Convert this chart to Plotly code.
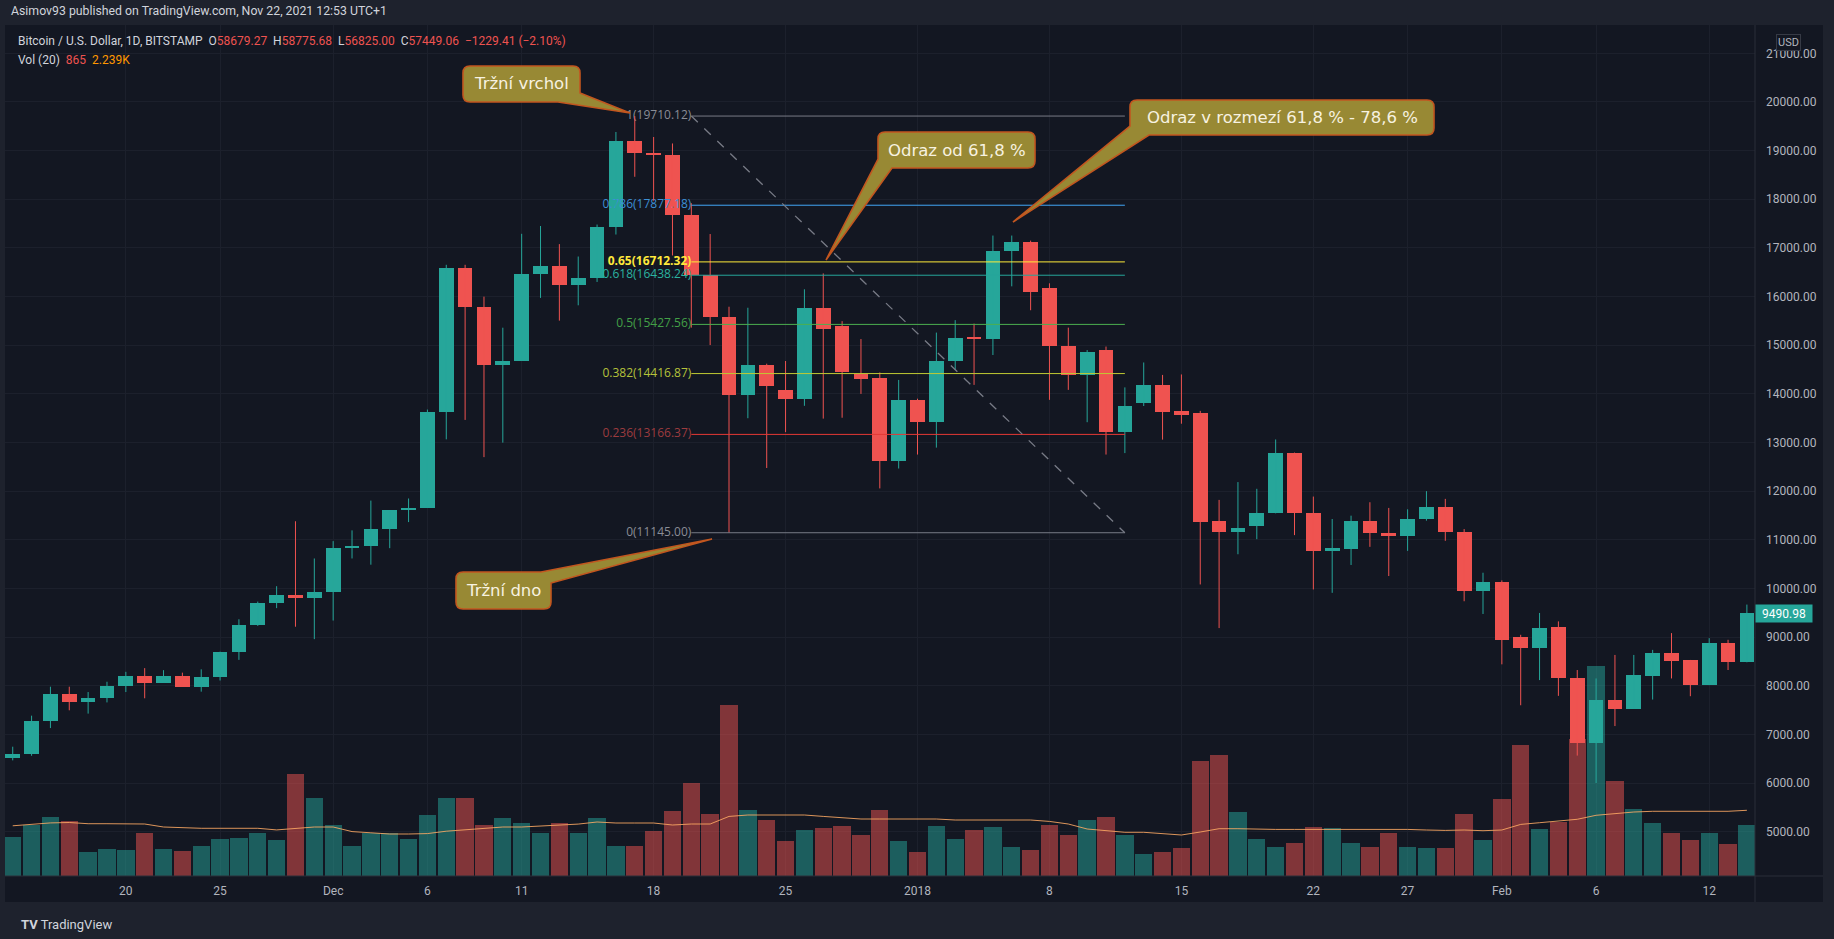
import pandas as pd
import plotly.graph_objects as go

# ---------------- data ----------------
dates = pd.date_range("2017-11-14", "2018-02-14", freq="D")

opens = [
    # Nov 14 - Nov 30
    6509, 6594, 7274, 7835, 7657, 7750, 7997, 8201, 8065, 8201, 7980, 8184, 8686, 9255, 9706, 9868, 9800,
    # Dec
    9919, 10828, 10871, 11228, 11610, 11661, 13617, 16585, 15777, 14587, 14680, 16457, 16636, 16228, 16381,
    17430, 19198, 18943, 18920, 17684, 16436, 15586, 13979, 14594, 14082, 13898, 15760, 15392, 14409, 14327, 12629,
    # Jan
    13877, 13417, 14675, 15146, 15130, 16927, 17131, 16169, 14982, 14389, 14901, 13212, 13806, 14184, 13642,
    13601, 11393, 11165, 11275, 11544, 12793, 11551, 10772, 10820, 11393, 11131, 11068, 11420, 11682, 11165, 9944,
    # Feb
    10130, 8992, 8785, 9199, 8164, 6826, 7716, 7530, 8206, 8668, 8530, 8012, 8875, 8482,
]
highs = [
    6747, 7385, 7980, 7980, 7870, 8082, 8286, 8362, 8320, 8269, 8337, 8700, 9366, 9730, 10046, 11381, 10616,
    10973, 11194, 11806, 11610, 11849, 13677, 16653, 16653, 15998, 15360, 17290, 17450, 17078, 16823, 17480,
    19383, 19710, 19280, 19147, 17919, 17285, 15791, 15770, 14620, 14675, 16149, 16476, 15494, 15126, 14440, 14286,
    13900, 15259, 15515, 15443, 17254, 17254, 17150, 16272, 15361, 14900, 14972, 14133, 14645, 14389, 14399,
    13650, 11820, 12186, 12048, 13062, 12793, 11889, 11427, 11496, 11772, 11655, 11627, 12000, 11841, 11220, 10323,
    10165, 9047, 9496, 9323, 8323, 8150, 8633, 8633, 8737, 9082, 8530, 8978, 8944, 9668,
]
lows = [
    6466, 6560, 7130, 7495, 7427, 7657, 7870, 7742, 8065, 7980, 7878, 8107, 8532, 9230, 9595, 9213, 8958,
    9340, 10616, 10488, 10828, 11364, 11661, 13065, 13464, 12699, 12997, 14680, 15972, 15505, 15820, 16300,
    17275, 18462, 17970, 16845, 15361, 15003, 11145, 13499, 12476, 13212, 13754, 13491, 13509, 13999, 12056, 12465,
    12752, 12895, 14491, 14184, 14798, 16210, 15719, 13877, 14082, 13417, 12752, 12782, 13750, 13059, 13386,
    10082, 9185, 10703, 11013, 11544, 11096, 9979, 9910, 10482, 10855, 10255, 10772, 11393, 10979, 9737, 9475,
    8440, 7599, 8116, 7792, 6564, 6000, 7171, 7530, 7716, 8150, 7785, 8012, 8323, 8482,
]
closes = [
    6594, 7274, 7835, 7657, 7750, 7997, 8201, 8065, 8201, 7980, 8184, 8686, 9255, 9706, 9868, 9800, 9919,
    10828, 10871, 11228, 11610, 11661, 13617, 16585, 15777, 14587, 14680, 16457, 16636, 16228, 16381, 17430,
    19198, 18943, 18920, 17684, 16436, 15586, 13979, 14594, 14154, 13898, 15760, 15340, 14440, 14307, 12629, 13877,
    13417, 14675, 15146, 15130, 16927, 17131, 16098, 14982, 14389, 14870, 13212, 13754, 14184, 13621, 13570,
    11358, 11151, 11241, 11551, 12786, 11544, 10772, 10841, 11393, 11131, 11068, 11434, 11682, 11151, 9944, 10130,
    8944, 8785, 9185, 8150, 6826, 7702, 7530, 8220, 8668, 8516, 8012, 8875, 8482, 9490.98,
]
volumes = [
    13100, 17340, 20160, 18700, 8160, 9350, 8840, 14620, 9040, 8640, 10340, 12720, 12990, 14550, 12140, 34680, 26660,
    17510, 10340, 14550, 14550, 12580, 20880, 26660, 26660, 17340, 19620, 18190, 14550, 18020, 14550, 19720,
    10100, 10100, 15200, 21960, 31760, 20940, 58310, 22300, 19070, 11800, 15540, 16180, 16860, 13840, 22300, 11800,
    8090, 16860, 12650, 15670, 16520, 9760, 8910, 17200, 14010, 18900, 19920, 13840, 7580, 8090, 9520,
    39100, 41280, 21900, 12650, 9930, 11290, 16660, 16420, 11290, 9790, 14690, 9930, 9550, 9550, 20980, 12410,
    26110, 44610, 15840, 18360, 46650, 71540, 32400, 22680, 18120, 14480, 12410, 14690, 11050, 17200,
]
vol_ma20 = [
    17070, 17510, 18050, 18190, 17780, 17780, 17780, 17680, 16660, 16420, 16220, 16220, 16220, 16220, 15670, 16220, 16660,
    16660, 15100, 14690, 14280, 14280, 14420, 15230, 15670, 16220, 16660, 16660, 16930, 17340, 17650, 18360,
    18020, 18020, 18020, 17340, 17680, 17680, 20260, 20740, 20740, 20740, 20740, 20260, 19720, 19380, 19380, 19380,
    19380, 19380, 19040, 19040, 19040, 19040, 19040, 18560, 17680, 15980, 15540, 14860, 14860, 14280, 13940,
    14960, 16080, 16080, 15840, 15840, 15840, 15840, 16080, 16080, 16080, 16080, 15840, 15640, 15500, 15640, 15400,
    15640, 17540, 18120, 18600, 19280, 20640, 21220, 21760, 22000, 22000, 21900, 21900, 22000, 22340,
]

tick_dates = ["2017-11-20", "2017-11-25", "2017-12-01", "2017-12-06", "2017-12-11", "2017-12-18",
              "2017-12-25", "2018-01-01", "2018-01-08", "2018-01-15", "2018-01-22", "2018-01-27",
              "2018-02-01", "2018-02-06", "2018-02-12"]
tick_labels = ["20", "25", "Dec", "6", "11", "18", "25", "2018", "8", "15", "22", "27", "Feb", "6", "12"]

price_ticks = [5000, 6000, 7000, 8000, 9000, 10000, 11000, 12000, 13000, 14000, 15000,
               16000, 17000, 18000, 19000, 20000, 21000]
price_tick_labels = [f"{v:.2f}" for v in price_ticks]

fib_levels = ["1", "0.786", "0.65", "0.618", "0.5", "0.382", "0.236", "0"]
fib_prices = [19710.12, 17877.18, 16712.32, 16438.24, 15427.56, 14416.87, 13166.37, 11145.00]
fib_start_date = "2017-12-20"
fib_end_date = "2018-01-12"

# ---------------- styles / layout constants ----------------
W, H = 1834, 939
PL, PR, PT, PB = 5, 1755, 25, 876          # plot area in pixels
PANEL_R, PANEL_B = 1823, 902
FRAME = "#1e222d"
PANEL = "#131722"
GRID = "#1c202c"
AXIS_TXT = "#b2b5be"
UP = "#26a69a"
DOWN = "#ef5350"
UP_VOL = "rgba(38,166,154,0.5)"
DOWN_VOL = "rgba(239,83,80,0.5)"
FONT = "Roboto"
X_RANGE = [-48.41, 44.43]
Y_RANGE = [4089, 21582]
VOL_RANGE = [0, 289340]
fib_colors = ["#787b86", "#42a5f5", "#ffeb3b", "#26a69a", "#4caf50", "#c0ca33", "#e53935", "#787b86"]
fib_label_colors = ["#8a8d96", "#3d8fd6", "#ffe93b", "#2bb3a0", "#43a047", "#b5c23a", "#9c3b3f", "#8a8d96"]

REF = pd.Timestamp("2018-01-01")
def dayidx(d):
    return (pd.Timestamp(d) - REF).days

x = [dayidx(d) for d in dates]
up = [c >= o for o, c in zip(opens, closes)]

fig = go.Figure()

# volume (main y axis, drawn beneath the price overlay)
fig.add_trace(go.Bar(x=x, y=volumes, yaxis="y", width=0.92,
                     marker=dict(color=[UP_VOL if u else DOWN_VOL for u in up], line=dict(width=0)),
                     hoverinfo="skip", showlegend=False))
fig.add_trace(go.Scatter(x=x, y=vol_ma20, yaxis="y", mode="lines",
                         line=dict(color="rgba(255,170,100,0.85)", width=1),
                         hoverinfo="skip", showlegend=False))

# fib labels (under the candles)
fx0, fx1 = dayidx(fib_start_date), dayidx(fib_end_date)
fib_texts = [f"{l}({p:.2f})" for l, p in zip(fib_levels, fib_prices)]
fib_texts = [f"<b>{t}</b>" if l == "0.65" else t for l, t in zip(fib_levels, fib_texts)]
fig.add_trace(go.Scatter(x=[fx0] * len(fib_prices), y=fib_prices, yaxis="y2", mode="text",
                         text=fib_texts, textposition="middle left",
                         textfont=dict(color=fib_label_colors, size=12, family="Open Sans"),
                         hoverinfo="skip", showlegend=False))

# wicks
for flag, col in ((True, UP), (False, DOWN)):
    wx, wy = [], []
    for xi, hi, lo, u in zip(x, highs, lows, up):
        if u == flag:
            wx += [xi, xi, None]
            wy += [lo, hi, None]
    fig.add_trace(go.Scatter(x=wx, y=wy, yaxis="y2", mode="lines", line=dict(color=col, width=1),
                             hoverinfo="skip", showlegend=False))

# bodies
fig.add_trace(go.Bar(x=x, y=[max(abs(c - o), 22) for o, c in zip(opens, closes)],
                     base=[min(o, c) for o, c in zip(opens, closes)], yaxis="y2", width=0.78,
                     marker=dict(color=[UP if u else DOWN for u in up], line=dict(width=0)),
                     hoverinfo="skip", showlegend=False))

# ---------------- helpers for pixel-placed decorations ----------------
def pp(px, py):
    return (px - PL) / (PR - PL), (PB - py) / (PB - PT)

def callout_path(x0, y0, x1, y1, r, corner, d_in, d_out, tip):
    def P(a, b):
        u, v = pp(a, b)
        return f"{u:.5f},{v:.5f}"
    s = f"M{P((x0 + x1) / 2, y0)}"
    if corner == "TR":
        s += f" L{P(x1 - d_in, y0)} L{P(*tip)} L{P(x1, y0 + d_out)}"
    else:
        s += f" L{P(x1 - r, y0)} Q{P(x1, y0)} {P(x1, y0 + r)}"
    if corner == "BR":
        s += f" L{P(x1, y1 - d_in)} L{P(*tip)} L{P(x1 - d_out, y1)}"
    else:
        s += f" L{P(x1, y1 - r)} Q{P(x1, y1)} {P(x1 - r, y1)}"
    if corner == "BL":
        s += f" L{P(x0 + d_in, y1)} L{P(*tip)} L{P(x0, y1 - d_out)}"
    else:
        s += f" L{P(x0 + r, y1)} Q{P(x0, y1)} {P(x0, y1 - r)}"
    if corner == "TL":
        s += f" L{P(x0, y0 + d_in)} L{P(*tip)} L{P(x0 + d_out, y0)}"
    else:
        s += f" L{P(x0, y0 + r)} Q{P(x0, y0)} {P(x0 + r, y0)}"
    s += " Z"
    return s

shapes = []
# panel background + separators
a0, b0 = pp(PL, PT)
a1, b1 = pp(PANEL_R, PANEL_B)
shapes.append(dict(type="rect", xref="paper", yref="paper", x0=a0, y0=b1, x1=a1, y1=b0,
                   fillcolor=PANEL, line=dict(width=0), layer="below"))
sx, _ = pp(PR, 0)
shapes.append(dict(type="line", xref="paper", yref="paper", x0=sx, x1=sx, y0=b1, y1=b0,
                   line=dict(color="#2a2e39", width=1), layer="above"))
shapes.append(dict(type="line", xref="paper", yref="paper", x0=a0, x1=a1, y0=0, y1=0,
                   line=dict(color="#2a2e39", width=1), layer="above"))

# fib lines + diagonal
for p, c in zip(fib_prices, fib_colors):
    shapes.append(dict(type="line", xref="x", yref="y2", x0=fx0, x1=fx1, y0=p, y1=p,
                       line=dict(color=c, width=1), layer="above"))
shapes.append(dict(type="line", xref="x", yref="y2", x0=fx0, x1=fx1, y0=fib_prices[0], y1=fib_prices[-1],
                   line=dict(color="#787b86", width=1.3, dash="dash"), layer="above"))

CALLOUT_FILL = "rgb(152,137,52)"
CALLOUT_LINE = "#c2561f"
callouts = [
    # text, box (x0,y0,x1,y1), corner, d_in, d_out, tip
    ("Tržní vrchol", (463, 66, 580, 102), "BR", 9, 22, (630, 113)),
    ("Odraz od 61,8 %", (878, 132, 1035, 168), "BL", 14, 9, (826, 260)),
    ("Odraz v rozmezí 61,8 % - 78,6 %", (1130, 100, 1434, 135), "BL", 19, 9, (1013, 222)),
    ("Tržní dno", (456, 572, 551, 609), "TR", 10, 11, (712, 539)),
]
annotations = []
for txt, (bx0, by0, bx1, by1), corner, din, dout, tip in callouts:
    shapes.append(dict(type="path", xref="paper", yref="paper",
                       path=callout_path(bx0, by0, bx1, by1, 7, corner, din, dout, tip),
                       fillcolor=CALLOUT_FILL, line=dict(color=CALLOUT_LINE, width=1.6), layer="above"))
    cx, cy = pp((bx0 + bx1) / 2, (by0 + by1) / 2)
    annotations.append(dict(x=cx, y=cy, xref="paper", yref="paper", text=txt, showarrow=False,
                            xanchor="center", yanchor="middle",
                            font=dict(family="DejaVu Sans", size=16.5, color="#f7f2e0")))

# header texts
def hdr(px, py, text, size=12):
    u, v = pp(px, py)
    annotations.append(dict(x=u, y=v, xref="paper", yref="paper", text=text, showarrow=False,
                            xanchor="left", yanchor="middle", font=dict(family=FONT, size=size, color="#d1d4dc")))

R_ = "#ef5350"
def red(s):
    return f"<span style='color:{R_}'>{s}</span>"

hdr(9, 11, "Asimov93 published on TradingView.com, Nov 22, 2021 12:53 UTC+1", size=12.3)
hdr(16, 41, "Bitcoin / U.S. Dollar, 1D, BITSTAMP  O" + red("58679.27") + "  H" + red("58775.68") +
    "  L" + red("56825.00") + "  C" + red("57449.06") + "  " + red("\u22121229.41 (\u22122.10%)"))
hdr(16, 60, "Vol (20)  " + red("865") + "  <span style='color:#ff9800'>2.239K</span>")
hdr(19, 924, "<b>TV</b> TradingView", size=13)

# USD badge
u, v = pp(1789, 42)
annotations.append(dict(x=u, y=v, xref="paper", yref="paper", text="USD", showarrow=False,
                        xanchor="center", yanchor="middle", bgcolor=PANEL, bordercolor="#363a45",
                        borderwidth=1, borderpad=1, font=dict(family=FONT, size=11, color=AXIS_TXT)))
# last price label
annotations.append(dict(x=1.0, y=closes[-1], xref="paper", yref="y2", text=f"{closes[-1]:.2f}",
                        showarrow=False, xanchor="left", yanchor="middle", bgcolor=UP, width=54, height=15,
                        font=dict(family=FONT, size=12, color="#ffffff")))

fig.update_layout(
    width=W, height=H,
    margin=dict(l=PL, r=W - PR, t=PT, b=H - PB, pad=0),
    paper_bgcolor=FRAME, plot_bgcolor=PANEL,
    barmode="overlay", bargap=0, showlegend=False, hovermode=False,
    shapes=shapes, annotations=annotations,
    xaxis=dict(range=X_RANGE, tickvals=[dayidx(d) for d in tick_dates], ticktext=tick_labels,
               showgrid=True, gridcolor=GRID, gridwidth=1, zeroline=False, showline=False,
               ticks="", tickfont=dict(family=FONT, size=12, color=AXIS_TXT), ticklabelstandoff=6,
               fixedrange=True),
    yaxis=dict(range=VOL_RANGE, visible=False, showgrid=False, fixedrange=True),
    yaxis2=dict(range=Y_RANGE, overlaying="y", side="right", anchor="x", tickvals=price_ticks,
                ticktext=price_tick_labels, showgrid=True, gridcolor=GRID, gridwidth=1,
                zeroline=False, showline=False, ticks="", ticklabelstandoff=10,
                tickfont=dict(family=FONT, size=12, color=AXIS_TXT), fixedrange=True),
)

fig.write_html("out.html")
